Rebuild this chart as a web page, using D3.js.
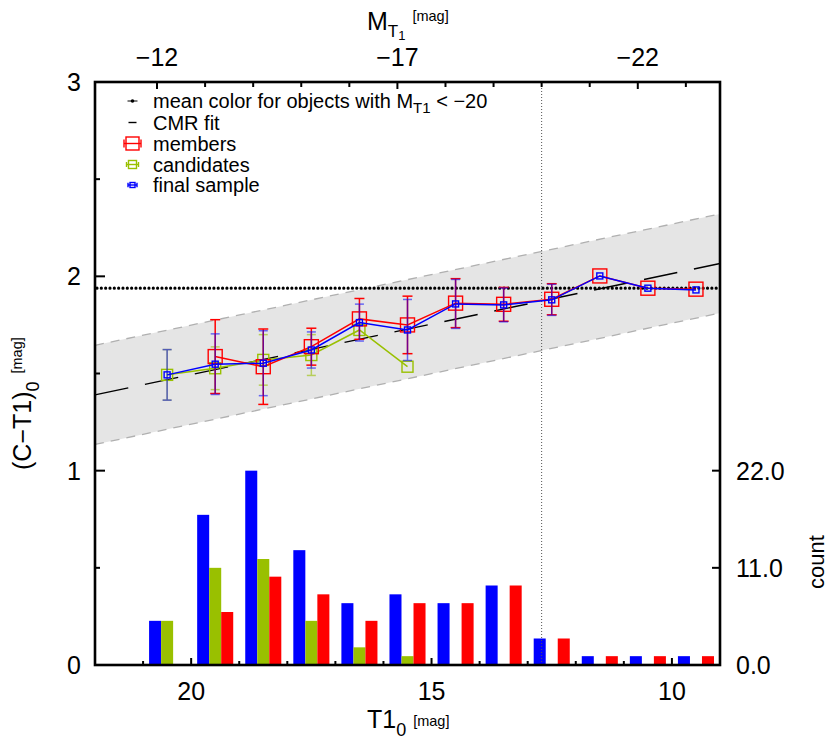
<!DOCTYPE html>
<html>
<head>
<meta charset="utf-8">
<script src="https://cdn.jsdelivr.net/npm/d3@7"></script>
<style>
  body { margin: 0; background: #fff; }
  svg { font-family: "Liberation Sans", Arial, Helvetica, sans-serif; }
</style>
</head>
<body>
<svg id="chart" width="830" height="747"></svg>
<script>
// histogram bins (T1_0 bin centres) and counts
const binT1 = [20.5, 19.5, 18.5, 17.5, 16.5, 15.5, 14.5, 13.5, 12.5, 11.5, 10.5, 9.5];
const nFinal = [5, 17, 22, 13, 7, 8, 7, 9, 3, 1, 1, 1];
const nCand  = [5, 11, 12, 5, 2, 1, 0, 0, 0, 0, 0, 0];
const nMemb  = [0, 6, 10, 8, 5, 7, 7, 9, 3, 1, 1, 1];

// mean colours per bin
const membT1  = [19.5, 18.5, 17.5, 16.5, 15.5, 14.5, 13.5, 12.5, 11.5, 10.5, 9.5];
const membCol = [1.587, 1.535, 1.638, 1.781, 1.750, 1.862, 1.856, 1.882, 2.002, 1.939, 1.934];
const membErr = [0.19, 0.194, 0.095, 0.105, 0.148, 0.126, 0.087, 0.08, 0, 0, 0];

const candT1  = [20.5, 19.5, 18.5, 17.5, 16.5, 15.5];
const candCol = [1.493, 1.527, 1.570, 1.595, 1.724, 1.535];
const candErr = [0.13, 0.11, 0.13, 0.105, 0, 0];

const finT1  = [20.5, 19.5, 18.5, 17.5, 16.5, 15.5, 14.5, 13.5, 12.5, 11.5, 10.5, 9.5];
const finCol = [1.493, 1.548, 1.553, 1.621, 1.762, 1.724, 1.858, 1.853, 1.879, 2.002, 1.939, 1.930];
const finErr = [0.13, 0.156, 0.167, 0.093, 0.095, 0.157, 0.126, 0.087, 0.08, 0, 0, 0];

// CMR fit: colour = fitA + fitB * T1, band of +/- fitWidth
const fitA = 2.534, fitB = -0.052, fitWidth = 0.255;
const fitRange = [22, 9];
const meanColor = 1.939;     // mean colour of objects with M_T1 < -20
const distMod = 32.71;       // M = T1 - distMod
const mCut = -20;

let svg = d3.select("#chart");
let pLeft = 95, pRight = 720, pTop = 82, pBottom = 665;

let x = d3.scaleLinear().domain([22, 9]).range([pLeft, pRight]);
let x2 = d3.scaleLinear().domain([22 - distMod, 9 - distMod]).range([pLeft, pRight]);
let y = d3.scaleLinear().domain([0, 3]).range([pBottom, pTop]);
let yc = d3.scaleLinear().domain([0, 22]).range([pBottom, y(1)]);

let colBlue = "#0000ff", colRed = "#ff0000", colGreen = "#99c000";

//band around the fit
let fit = function(t){ return fitA + fitB * t; };
let area = d3.area()
  .x(function(d){ return x(d); })
  .y0(function(d){ return y(fit(d) - fitWidth); })
  .y1(function(d){ return y(fit(d) + fitWidth); });
svg.append("path").datum(fitRange).attr("d", area).attr("fill", "#e5e5e5");
["upper", "lower"].forEach(function(s){
  let off = s == "upper" ? fitWidth : -fitWidth;
  svg.append("path").datum(fitRange)
    .attr("d", d3.line().x(function(d){ return x(d); }).y(function(d){ return y(fit(d) + off); }))
    .attr("fill", "none").attr("stroke", "#b0b0b0").attr("stroke-width", 1.3)
    .attr("stroke-dasharray", "9,7");
});

//histogram bars
let barW = x(0) - x(0.25);
let hists = [[nFinal, colBlue, -0.375], [nCand, colGreen, -0.125], [nMemb, colRed, 0.125]];
hists.forEach(function(h){
  svg.append("g").selectAll("rect")
    .data(binT1)
    .enter()
    .append("rect")
    .attr("x", function(d){ return x(d - h[2]); })
    .attr("y", function(d, i){ return yc(h[0][i]); })
    .attr("width", barW)
    .attr("height", function(d, i){ return pBottom - yc(h[0][i]); })
    .attr("fill", h[1]);
});

//vertical dotted line at M_T1 = -20
svg.append("line")
  .attr("x1", x2(mCut)).attr("x2", x2(mCut))
  .attr("y1", pTop).attr("y2", pBottom)
  .attr("stroke", "#555").attr("stroke-width", 1)
  .attr("stroke-dasharray", "1,2");

//mean colour line (dotted)
svg.append("line")
  .attr("x1", pLeft + 2).attr("x2", pRight)
  .attr("y1", y(meanColor)).attr("y2", y(meanColor))
  .attr("stroke", "#000").attr("stroke-width", 3.2)
  .attr("stroke-linecap", "round")
  .attr("stroke-dasharray", "0,4.33");

//CMR fit dashed
svg.append("path").datum(fitRange)
  .attr("d", d3.line().x(function(d){ return x(d); }).y(function(d){ return y(fit(d)); }))
  .attr("fill", "none").attr("stroke", "#000").attr("stroke-width", 1.4)
  .attr("stroke-dasharray", "34,17");

//series
function drawSeries(ts, cs, es, color, size, cap, errOpacity){
  let g = svg.append("g");
  let pts = ts.map(function(t, i){ return {t: t, c: cs[i], e: es[i]}; });
  pts.forEach(function(p){
    if(p.e > 0){
      let eg = g.append("g").attr("stroke", color).attr("stroke-width", 1.5).style("opacity", errOpacity);
      eg.append("line").attr("x1", x(p.t)).attr("x2", x(p.t)).attr("y1", y(p.c - p.e)).attr("y2", y(p.c + p.e));
      eg.append("line").attr("x1", x(p.t) - cap/2).attr("x2", x(p.t) + cap/2).attr("y1", y(p.c - p.e)).attr("y2", y(p.c - p.e));
      eg.append("line").attr("x1", x(p.t) - cap/2).attr("x2", x(p.t) + cap/2).attr("y1", y(p.c + p.e)).attr("y2", y(p.c + p.e));
    }
  });
  g.append("path").datum(pts)
    .attr("d", d3.line().x(function(d){ return x(d.t); }).y(function(d){ return y(d.c); }))
    .attr("fill", "none").attr("stroke", color).attr("stroke-width", 1.5);
  g.selectAll("rect.pt").data(pts).enter().append("rect")
    .attr("class", "pt")
    .attr("x", function(d){ return x(d.t) - size/2; })
    .attr("y", function(d){ return y(d.c) - size/2; })
    .attr("width", size).attr("height", size)
    .attr("fill", "none").attr("stroke", color).attr("stroke-width", 1.4);
}
drawSeries(candT1, candCol, candErr, colGreen, 11, 9, 0.6);
drawSeries(membT1, membCol, membErr, colRed, 14, 10, 1);
drawSeries(finT1, finCol, finErr, colBlue, 6, 9, 0.55);

//frame
svg.append("rect")
  .attr("x", pLeft).attr("y", pTop)
  .attr("width", pRight - pLeft).attr("height", pBottom - pTop)
  .attr("fill", "none").attr("stroke", "#000").attr("stroke-width", 2.6);

//ticks (inward)
let tickG = svg.append("g").attr("stroke", "#000").attr("stroke-width", 2);
d3.range(21, 9, -1).forEach(function(t){
  let len = (t % 5 == 0) ? 7 : 4;
  tickG.append("line").attr("x1", x(t)).attr("x2", x(t)).attr("y1", pBottom).attr("y2", pBottom - len);
});
d3.range(-12, -24, -1).forEach(function(m){
  let len = ((m + 12) % 5 == 0) ? 7 : 5;
  tickG.append("line").attr("x1", x2(m)).attr("x2", x2(m)).attr("y1", pTop).attr("y2", pTop + len);
});
[0.5, 1, 1.5, 2, 2.5].forEach(function(v){
  let len = (v % 1 == 0) ? 10 : 5;
  tickG.append("line").attr("x1", pLeft).attr("x2", pLeft + len).attr("y1", y(v)).attr("y2", y(v));
});
[11, 22].forEach(function(v){
  tickG.append("line").attr("x1", pRight).attr("x2", pRight - 8).attr("y1", yc(v)).attr("y2", yc(v));
});

//tick labels
let fs = 25;
let labels = svg.append("g").attr("font-size", fs).attr("fill", "#000");
[20, 15, 10].forEach(function(t){
  labels.append("text").attr("x", x(t)).attr("y", 700).attr("text-anchor", "middle").text(t);
});
[-12, -17, -22].forEach(function(m){
  labels.append("text").attr("x", x2(m)).attr("y", 66).attr("text-anchor", "middle").text("\u2212" + (-m));
});
[0, 1, 2, 3].forEach(function(v){
  labels.append("text").attr("x", 81).attr("y", y(v)).attr("dy", "0.36em").attr("text-anchor", "end").text(v);
});
[0, 11, 22].forEach(function(v){
  labels.append("text").attr("x", 736).attr("y", yc(v)).attr("dy", "0.36em").attr("text-anchor", "start").text(d3.format(".1f")(v));
});

//axis titles
let bt = svg.append("text").attr("x", 367).attr("y", 728).attr("font-size", fs);
bt.append("tspan").text("T1");
bt.append("tspan").attr("font-size", 18).attr("dy", 8).text("0");
bt.append("tspan").attr("font-size", 14.5).attr("dy", -10).attr("dx", 7).text("[mag]");

let tt = svg.append("text").attr("x", 367).attr("y", 30).attr("font-size", fs);
tt.append("tspan").text("M");
tt.append("tspan").attr("font-size", 17).attr("dy", 7).text("T");
tt.append("tspan").attr("font-size", 13).attr("dy", 3).text("1");
tt.append("tspan").attr("font-size", 14.5).attr("dy", -19).attr("dx", 7).text("[mag]");

let lt = svg.append("text").attr("font-size", fs).attr("transform", "translate(31, 470) rotate(-90)");
lt.append("tspan").text("(C\u2212T1)");
lt.append("tspan").attr("font-size", 18).attr("dy", 8).text("0");
lt.append("tspan").attr("font-size", 14.5).attr("dy", -17).attr("dx", 8).text("[mag]");

svg.append("text").attr("font-size", 22).attr("text-anchor", "middle")
  .attr("transform", "translate(824, 562) rotate(-90)").text("count");

//legend
let lg = svg.append("g").attr("font-size", 20);
let rows = [101, 122.5, 143.5, 164.5, 185];
let lx = 153, sx = 132.5;
let l1 = lg.append("text").attr("x", lx).attr("y", rows[0]).attr("dy", "0.35em");
l1.append("tspan").text("mean color for objects with M");
l1.append("tspan").attr("font-size", 15).attr("dy", 5).text("T1");
l1.append("tspan").attr("dy", -5).text(" < \u221220");
lg.append("text").attr("x", lx).attr("y", rows[1]).attr("dy", "0.35em").text("CMR fit");
lg.append("text").attr("x", lx).attr("y", rows[2]).attr("dy", "0.35em").text("members");
lg.append("text").attr("x", lx).attr("y", rows[3]).attr("dy", "0.35em").text("candidates");
lg.append("text").attr("x", lx).attr("y", rows[4]).attr("dy", "0.35em").text("final sample");

lg.append("line").attr("x1", sx - 5).attr("x2", sx + 5).attr("y1", rows[0]).attr("y2", rows[0]).attr("stroke", "#000").attr("stroke-width", 1);
lg.append("circle").attr("cx", sx).attr("cy", rows[0]).attr("r", 1.8).attr("fill", "#000");
lg.append("line").attr("x1", sx - 4).attr("x2", sx + 4).attr("y1", rows[1]).attr("y2", rows[1]).attr("stroke", "#000").attr("stroke-width", 1.4);

let legSym = [[rows[2], colRed, 13, 8], [rows[3], colGreen, 8, 5], [rows[4], colBlue, 5, 4.5]];
legSym.forEach(function(s){
  let g = lg.append("g").attr("stroke", s[1]).attr("stroke-width", 1.4).attr("fill", "none");
  let w = s[2] / 2 + 2;
  g.append("line").attr("x1", sx - w).attr("x2", sx + w).attr("y1", s[0]).attr("y2", s[0]);
  g.append("line").attr("x1", sx - w).attr("x2", sx - w).attr("y1", s[0] - s[3] / 2).attr("y2", s[0] + s[3] / 2);
  g.append("line").attr("x1", sx + w).attr("x2", sx + w).attr("y1", s[0] - s[3] / 2).attr("y2", s[0] + s[3] / 2);
  g.append("rect").attr("x", sx - s[2] / 2).attr("y", s[0] - s[2] / 2).attr("width", s[2]).attr("height", s[2]);
});
</script>
</body>
</html>
